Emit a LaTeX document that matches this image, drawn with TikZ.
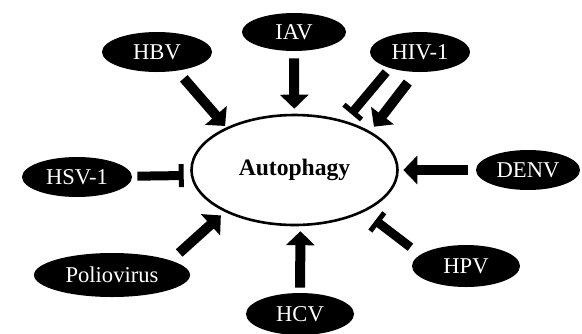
\documentclass[tikz,border=0pt]{standalone}
\usepackage{fontspec}
\setmainfont{Liberation Serif}
\usetikzlibrary{shapes.geometric,arrows.meta}

\begin{document}
\begin{tikzpicture}[
        x = 0.5pt, y = -0.5pt,
        auto
    ]
    \tikzstyle{virus}=[
        ellipse,
        fill = black,
        text = white,
        inner sep = 0pt,
        font = \fontsize{11.3}{13}\selectfont
    ]

    \tikzstyle{process}=[
        ellipse,
        draw = black,
        line width = 1.3pt,
        fill = white,
        minimum width = 103pt,
        minimum height = 55pt,
        font = \bfseries\fontsize{11.8}{14}\selectfont
    ]

    \tikzstyle{induce}=[line width = 5pt, -{Triangle[width=14pt,length=7pt]}]
    \tikzstyle{inhibit}=[line width = 4.5pt, -{Bar[width=11.5pt,line width=2.5pt]}]

    \useasboundingbox (0,0) rectangle (582,333);

	\node[process] (auto) at (294.5,170) {Autophagy};
	\node[virus, minimum width=55pt, minimum height=20pt] (hbv)   at (157,52)  {HBV};
	\node[virus, minimum width=52pt, minimum height=19pt] (iav)   at (294,32)  {IAV};
	\node[virus, minimum width=50pt, minimum height=20pt] (hiv)   at (420,52)  {HIV-1};
	\node[virus, minimum width=55pt, minimum height=20pt] (hsv)   at (77,177)  {HSV-1};
	\node[virus, minimum width=52pt, minimum height=20pt] (denv)  at (528,170) {DENV};
	\node[virus, minimum width=54pt, minimum height=21pt] (hpv)   at (466,266) {HPV};
	\node[virus, minimum width=78pt, minimum height=22pt] (polio) at (112,275) {Poliovirus};
	\node[virus, minimum width=54pt, minimum height=21pt] (hcv)   at (300,314) {HCV};

	% inducers
	\path[induce] (hbv.-43.6) edge [shorten <=4.9pt, shorten >=0.95pt] (auto.148.2);
	\path[induce] (iav) edge [shorten <=3.5pt, shorten >=2.5pt] (auto);
	\path[induce] (hiv.258.9) edge [shorten <=6.45pt, shorten >=2.95pt] (auto.27.5);
	\path[induce] (denv) edge [shorten <=4pt, shorten >=2.25pt] (auto);
	\path[induce] (polio.14.6) edge [shorten <=5.45pt, shorten >=2.65pt] (auto.211.6);
	\path[induce] (hcv) edge [shorten <=2.5pt, shorten >=2.5pt] (auto.-84.3);

	% inhibitors
	\path[inhibit] (hiv.208.5) edge [shorten <=2.55pt, shorten >=4.5pt] (auto.44);
	\path[inhibit] (hsv) edge [shorten <=2.5pt, shorten >=3.5pt] (auto.183.9);
	\path[inhibit] (hpv.166.9) edge [shorten <=6.05pt, shorten >=7pt] (auto.-31.9);

	\end{tikzpicture}
\end{document}
